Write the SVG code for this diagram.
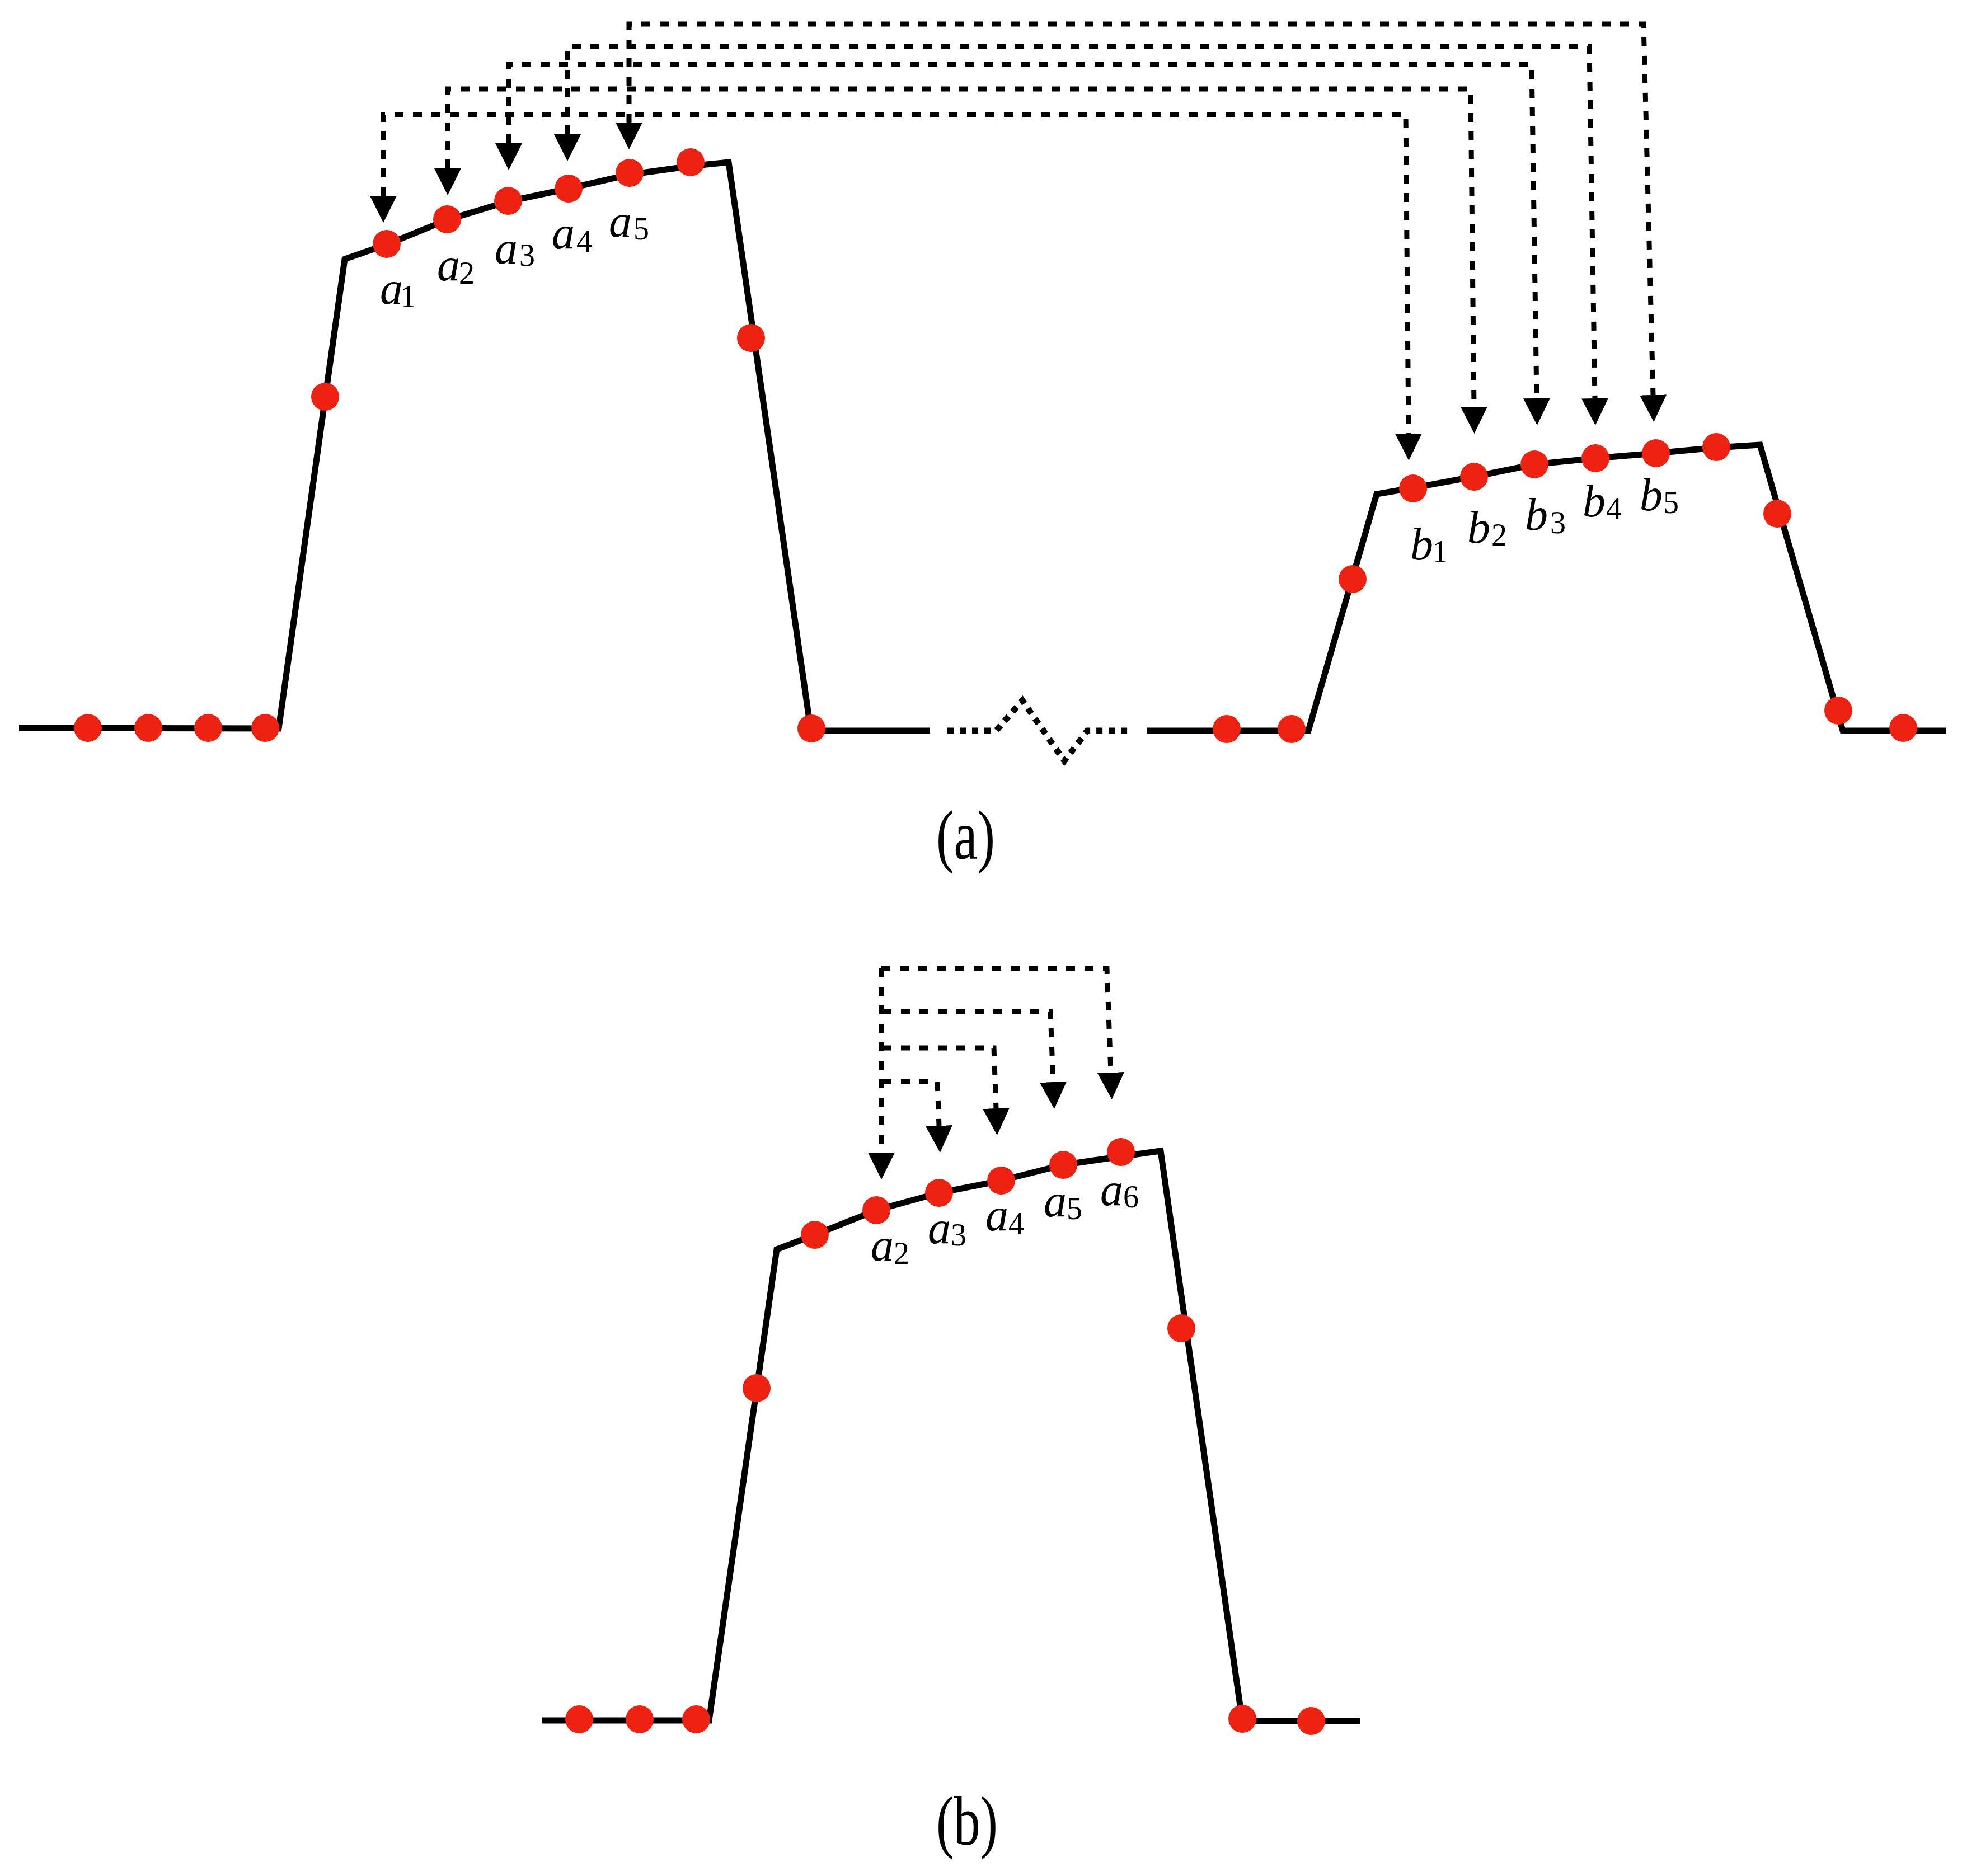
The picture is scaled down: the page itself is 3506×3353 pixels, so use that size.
<svg xmlns="http://www.w3.org/2000/svg" width="3506" height="3353" viewBox="0 0 3506 3353">
<defs>
<style>
.curve{fill:none;stroke:#000;stroke-width:11;stroke-linejoin:miter}
.brk{fill:none;stroke:#000;stroke-width:11;stroke-dasharray:11 11}
.con{fill:none;stroke:#000;stroke-width:9;stroke-dasharray:16 17}
.dot{fill:#ED2210}
.v{font-family:'Liberation Serif','Times New Roman','DejaVu Serif',serif;font-style:italic;font-size:82px;fill:#000}
.s{font-family:'Liberation Serif','Times New Roman','DejaVu Serif',serif;font-size:56px;fill:#000}
.cap{font-family:'Liberation Serif','Times New Roman','DejaVu Serif',serif;font-size:124px;fill:#000}
</style>
<marker id="ah" markerUnits="userSpaceOnUse" markerWidth="50" markerHeight="50" refX="0" refY="24" orient="auto-start-reverse" viewBox="0 0 50 48">
<path d="M0,0 L48,24 L0,48 z" fill="#000"/>
</marker>
</defs>
<rect width="3506" height="3353" fill="#fff"/>

<g id="panel-a">
<g id="curve-a-left">
<path class="curve" d="M34,1301 L498,1302 L616,463 L691,437 L799,393 L908,360 L1016,337 L1125,312 L1234,297 L1302,290 L1449,1306 L1662,1306"/>
<g class="dot">
<circle cx="157" cy="1301" r="25"/><circle cx="265" cy="1301" r="25"/><circle cx="372" cy="1301" r="25"/><circle cx="474" cy="1301" r="25"/>
<circle cx="581" cy="709" r="25"/>
<circle cx="691" cy="436" r="25"/><circle cx="799" cy="392" r="25"/><circle cx="908" cy="359" r="25"/><circle cx="1016" cy="337" r="25"/><circle cx="1125" cy="309" r="25"/><circle cx="1234" cy="290" r="25"/>
<circle cx="1342" cy="604" r="25"/><circle cx="1450" cy="1302" r="25"/>
</g>
</g>
<g id="break">
<path class="brk" d="M1693,1306 L1780,1306 L1827,1252 L1902,1360 L1943,1306 L2017,1306"/>
</g>
<g id="curve-a-right">
<path class="curve" d="M2050,1306 L2338,1306 L2460,883 L2525,872 L2634,852 L2742,830 L2851,819 L2959,810 L3067,800 L3145,795 L3293,1306 L3477,1306"/>
<g class="dot">
<circle cx="2192" cy="1303" r="25"/><circle cx="2308" cy="1303" r="25"/>
<circle cx="2417" cy="1035" r="25"/>
<circle cx="2525" cy="873" r="25"/><circle cx="2634" cy="852" r="25"/><circle cx="2742" cy="830" r="25"/><circle cx="2851" cy="819" r="25"/><circle cx="2959" cy="810" r="25"/><circle cx="3067" cy="799" r="25"/>
<circle cx="3176" cy="918" r="25"/><circle cx="3285" cy="1270" r="25"/><circle cx="3401" cy="1301" r="25"/>
</g>
</g>
<g id="labels-a">
<text><tspan class="v" x="679" y="543">a</tspan><tspan class="s" x="715" y="549">1</tspan></text>
<text><tspan class="v" x="781" y="501">a</tspan><tspan class="s" x="820" y="507">2</tspan></text>
<text><tspan class="v" x="884" y="471">a</tspan><tspan class="s" x="928" y="475">3</tspan></text>
<text><tspan class="v" x="986" y="444">a</tspan><tspan class="s" x="1030" y="450">4</tspan></text>
<text><tspan class="v" x="1088" y="423">a</tspan><tspan class="s" x="1132" y="428">5</tspan></text>
<text><tspan class="v" x="2520" y="1000">b</tspan><tspan class="s" x="2559" y="1005">1</tspan></text>
<text><tspan class="v" x="2622" y="970">b</tspan><tspan class="s" x="2665" y="975">2</tspan></text>
<text><tspan class="v" x="2725" y="947">b</tspan><tspan class="s" x="2770" y="953">3</tspan></text>
<text><tspan class="v" x="2828" y="923">b</tspan><tspan class="s" x="2870" y="928">4</tspan></text>
<text><tspan class="v" x="2930" y="912">b</tspan><tspan class="s" x="2972" y="917">5</tspan></text>
</g>
<text id="cap-a" class="cap" x="1673" y="1535" textLength="105" lengthAdjust="spacingAndGlyphs">(a)</text>
</g>

<g id="panel-b">
<g id="curve-b">
<path class="curve" d="M969,3075 L1267,3075 L1388,2233 L1456,2207 L1566,2163 L1678,2132 L1789,2110 L1900,2082 L2003,2067 L2074,2057 L2220,3076 L2431,3076"/>
<g class="dot">
<circle cx="1035" cy="3073" r="25"/><circle cx="1143" cy="3073" r="25"/><circle cx="1244" cy="3073" r="25"/>
<circle cx="1352" cy="2481" r="25"/><circle cx="1456" cy="2207" r="25"/>
<circle cx="1566" cy="2163" r="25"/><circle cx="1678" cy="2132" r="25"/><circle cx="1789" cy="2110" r="25"/><circle cx="1900" cy="2082" r="25"/><circle cx="2003" cy="2059" r="25"/>
<circle cx="2111" cy="2374" r="25"/><circle cx="2220" cy="3072" r="25"/><circle cx="2343" cy="3076" r="25"/>
</g>
</g>
<g id="labels-b">
<text><tspan class="v" x="1556" y="2253">a</tspan><tspan class="s" x="1597" y="2259">2</tspan></text>
<text><tspan class="v" x="1658" y="2222">a</tspan><tspan class="s" x="1699" y="2226">3</tspan></text>
<text><tspan class="v" x="1761" y="2199">a</tspan><tspan class="s" x="1802" y="2206">4</tspan></text>
<text><tspan class="v" x="1865" y="2174">a</tspan><tspan class="s" x="1906" y="2179">5</tspan></text>
<text><tspan class="v" x="1966" y="2154">a</tspan><tspan class="s" x="2007" y="2158">6</tspan></text>
</g>
<text id="cap-b" class="cap" x="1673" y="3297" textLength="110" lengthAdjust="spacingAndGlyphs">(b)</text>
</g>

<g id="connectors">
<path class="con" marker-start="url(#ah)" marker-end="url(#ah)" d="M685,350 L685,205 L2512,205 L2517,775"/>
<path class="con" marker-start="url(#ah)" marker-end="url(#ah)" d="M800,301 L800,159 L2628,159 L2634,727"/>
<path class="con" marker-start="url(#ah)" marker-end="url(#ah)" d="M909,256 L909,115 L2737,115 L2746,712"/>
<path class="con" marker-start="url(#ah)" marker-end="url(#ah)" d="M1014,240 L1014,83 L2840,83 L2850,712"/>
<path class="con" marker-start="url(#ah)" marker-end="url(#ah)" d="M1124,219 L1124,43 L2937,43 L2954,706"/>
<path class="con" marker-end="url(#ah)" d="M1575,1731 L1575,2060"/>
<path class="con" marker-end="url(#ah)" d="M1575,1731 L1978,1731 L1985,1917"/>
<path class="con" marker-end="url(#ah)" d="M1577,1808 L1877,1808 L1882,1934"/>
<path class="con" marker-end="url(#ah)" d="M1577,1873 L1776,1873 L1780,1981"/>
<path class="con" marker-end="url(#ah)" d="M1577,1933 L1675,1933 L1678,2012"/>
</g>
</svg>
